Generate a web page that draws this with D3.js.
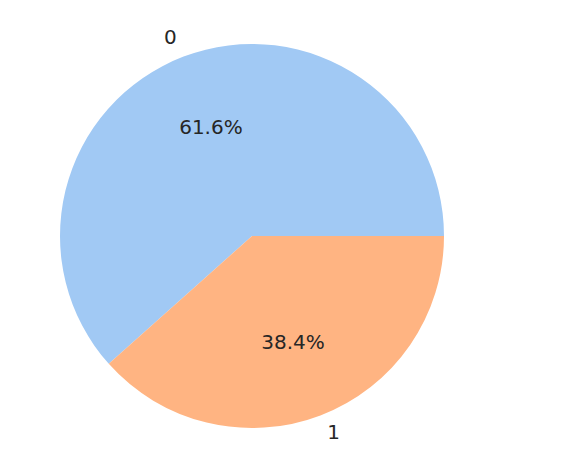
<!DOCTYPE html>
<html>
<head>
<meta charset="utf-8">
<script src="https://cdn.jsdelivr.net/npm/d3@7"></script>
<style>
  body { margin: 0; background: #fff; }
</style>
</head>
<body>
<div class="canvas"></div>
<script>
const labels = ['0', '1'];
const shares = [61.6, 38.4];
const colors = ['#a1c9f4', '#ffb482'];

const width = 561, height = 466;
const cx = 252, cy = 236, radius = 192;

const svg = d3.select('.canvas')
  .append('svg')
  .attr('width', width)
  .attr('height', height)
  .style('background', '#fff');

const g = svg.append('g')
  .attr('transform', `translate(${cx},${cy})`);

// matplotlib style: start at 3 o'clock, go counterclockwise
// d3 angles are clockwise from 12 o'clock, so start at PI/2 and go negative
const pie = d3.pie()
  .sort(null)
  .value(d => d)
  .startAngle(Math.PI / 2)
  .endAngle(Math.PI / 2 - 2 * Math.PI);

const arcs = pie(shares);

const arc = d3.arc()
  .innerRadius(0)
  .outerRadius(radius);

g.selectAll('path.slice')
  .data(arcs)
  .enter()
  .append('path')
  .attr('class', 'slice')
  .attr('d', arc)
  .attr('fill', (d, i) => colors[i]);

const midAngle = d => (d.startAngle + d.endAngle) / 2;

// outer labels at 1.1 * radius
g.selectAll('text.label')
  .data(arcs)
  .enter()
  .append('text')
  .attr('class', 'label')
  .attr('x', d => 1.1 * radius * Math.sin(midAngle(d)))
  .attr('y', d => -1.1 * radius * Math.cos(midAngle(d)) - 1.5)
  .attr('text-anchor', d => Math.sin(midAngle(d)) < 0 ? 'end' : 'start')
  .attr('dominant-baseline', 'central')
  .style('font-family', 'DejaVu Sans')
  .style('font-size', '20px')
  .style('fill', '#262626')
  .text((d, i) => labels[i]);

// percentages at 0.6 * radius
g.selectAll('text.pct')
  .data(arcs)
  .enter()
  .append('text')
  .attr('class', 'pct')
  .attr('x', d => 0.6 * radius * Math.sin(midAngle(d)))
  .attr('y', d => -0.6 * radius * Math.cos(midAngle(d)) - 1.5)
  .attr('text-anchor', 'middle')
  .attr('dominant-baseline', 'central')
  .style('font-family', 'DejaVu Sans')
  .style('font-size', '20px')
  .style('fill', '#262626')
  .text(d => d.value.toFixed(1) + '%');
</script>
</body>
</html>
